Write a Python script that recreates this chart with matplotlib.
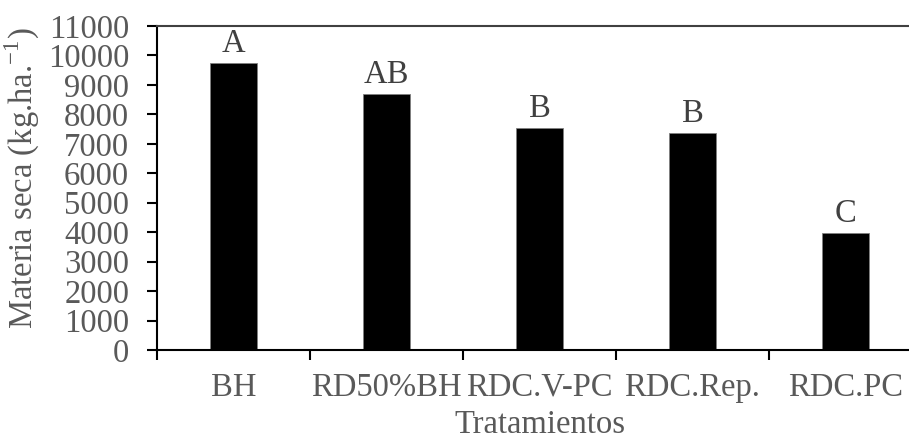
import matplotlib
matplotlib.use("Agg")
from matplotlib import pyplot as plt
import numpy as np

categorias = ["BH", "RD50%BH", "RDC.V-PC", "RDC.Rep.", "RDC.PC"]
materia_seca = [9750, 8700, 7540, 7370, 3970]
letras = ["A", "AB", "B", "B", "C"]

plt.rcParams['font.family'] = ['Liberation Serif', 'DejaVu Serif']
gris = '#595959'
fs = 23.5

fig = plt.figure(figsize=(9.09, 4.36), dpi=100)
ax = fig.add_axes([157/909, 1-350/436, (922-157)/909, (350-26)/436])

x = np.arange(len(categorias))
ax.bar(x, materia_seca, width=0.31, color='black', edgecolor='#808080', linewidth=0.6)
for xi, v, l in zip(x, materia_seca, letras):
    ax.annotate(l, (xi, v), xytext=(0, 3), textcoords='offset points',
                ha='center', va='bottom', fontsize=fs, color='#404040')

ax.set_xlim(-0.5, len(categorias) - 0.5)
ax.set_ylim(0, 11000)
ax.set_yticks(np.arange(0, 11001, 1000))
ax.set_xticks(x)
ax.set_xticklabels(categorias)
ax.set_xticks(np.arange(-0.5, len(categorias), 1), minor=True)
ax.tick_params(axis='x', which='major', length=0, pad=16, labelsize=fs, labelcolor=gris)
ax.tick_params(axis='x', which='minor', length=7, width=1.5, direction='out')
ax.tick_params(axis='y', length=7, width=1.5, pad=13, labelsize=fs, labelcolor=gris)

for s in ['left', 'bottom']:
    ax.spines[s].set_linewidth(1.5)
ax.spines['right'].set_visible(False)
ax.spines['top'].set_color('#404040')
ax.spines['top'].set_linewidth(1.5)

ax.set_xlabel("Tratamientos", fontsize=fs, color=gris, va='top')
ax.xaxis.set_label_coords(0.5, -0.185)
ax.set_ylabel("Materia seca (kg.ha.$^{\\mathregular{-1}}$)", fontsize=fs, color=gris)
ax.yaxis.set_label_coords(-0.15, 0.53)

fig.savefig("out.png", dpi=100)
